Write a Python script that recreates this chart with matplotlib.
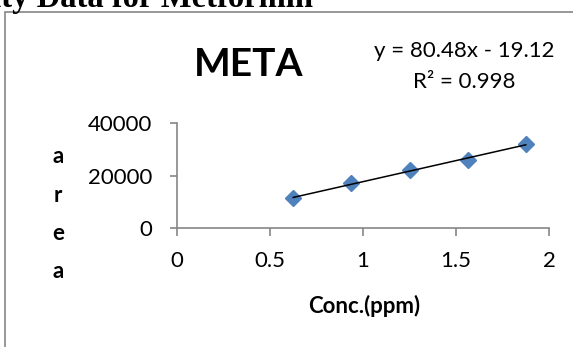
import matplotlib
matplotlib.use('Agg')
import matplotlib.pyplot as plt
import numpy as np
from matplotlib.patches import Rectangle

# concentration (ppm) vs peak area
conc = [0.625, 0.9375, 1.25, 1.5625, 1.875]
area = [11500, 17100, 22200, 26000, 32100]

x_ticks = [0, 0.5, 1, 1.5, 2]
x_tick_labels = ['0', '0.5', '1', '1.5', '2']
y_ticks = [0, 20000, 40000]
y_tick_labels = ['0', '20000', '40000']

W, H = 573, 347
GREY = '#868686'
BLUE = '#4F81BD'


def main():
    plt.rcParams['font.family'] = ['Lato', 'DejaVu Sans']
    fig = plt.figure(figsize=(W / 100, H / 100), dpi=100)

    # page heading, cut off by the crop in the original
    fig.text(313 / W, 1 - 7 / H, 'Linearity Data for Metformin',
             family='Liberation Serif', weight='bold', fontsize=23.5,
             ha='right', va='baseline')

    # chart area border (runs off the right and bottom edge)
    fig.add_artist(Rectangle((5 / W, -0.2), 1.2, 1.2 - 11.7 / H,
                             transform=fig.transFigure, fill=False,
                             edgecolor=GREY, linewidth=1.2))

    ax = fig.add_axes([177 / W, 1 - 228.3 / H, 372 / W, 105 / H])
    ax.set_xlim(0, 2)
    ax.set_ylim(0, 40000)

    ax.plot(conc, area, linestyle='none', marker='D', markersize=8.6,
            color=BLUE, markeredgecolor=BLUE, zorder=2)

    k, b = np.polyfit(conc, area, 1)
    xs = np.array([conc[0], conc[-1]])
    ax.plot(xs, k * xs + b, color='black', linewidth=1.1, zorder=3)

    for side in ['top', 'right']:
        ax.spines[side].set_visible(False)
    for side in ['left', 'bottom']:
        ax.spines[side].set_color(GREY)
        ax.spines[side].set_linewidth(1.2)

    ax.set_xticks(x_ticks)
    ax.set_xticklabels(x_tick_labels)
    ax.set_yticks(y_ticks)
    ax.set_yticklabels(y_tick_labels)
    ax.tick_params(axis='x', direction='out', length=5.5, width=1.2,
                   color=GREY, pad=11, labelsize=16)
    ax.tick_params(axis='y', direction='out', length=5, width=1.2,
                   color=GREY, pad=13, labelsize=16)

    # chart title and trendline label
    fig.text(248.5 / W, 1 - 64 / H, 'META', weight='bold', fontsize=28,
             ha='center', va='center')
    fig.text(464.5 / W, 1 - 51 / H, 'y = 80.48x - 19.12', fontsize=16,
             ha='center', va='center')
    fig.text(464.5 / W, 1 - 82 / H, 'R² = 0.998', fontsize=16,
             ha='center', va='center')

    # axis titles
    fig.text(364 / W, 1 - 306 / H, 'Conc.(ppm)', weight='bold', fontsize=16,
             ha='center', va='center')
    for i, ch in enumerate('area'):
        fig.text(58 / W, 1 - (157 + 38 * i) / H, ch, weight='bold',
                 fontsize=16, ha='center', va='center')

    fig.savefig('out.png', dpi=100)


if __name__ == '__main__':
    main()
